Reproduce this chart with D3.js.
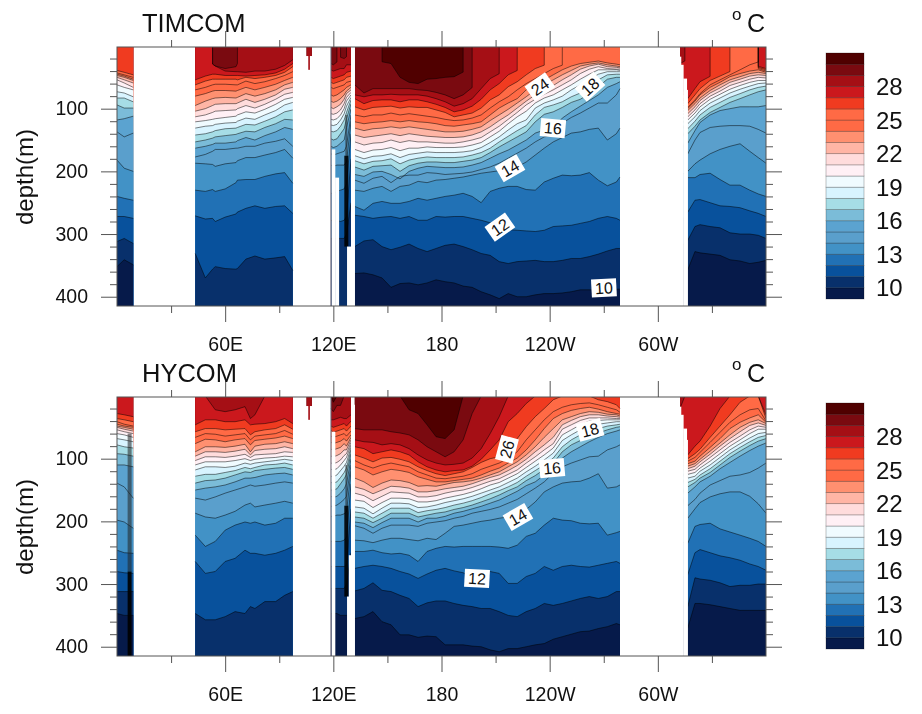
<!DOCTYPE html>
<html><head><meta charset="utf-8">
<script src="https://cdn.jsdelivr.net/npm/d3@7"></script>
<style>html,body{margin:0;background:#fff}svg{display:block;filter:blur(.45px)}text{font-family:"Liberation Sans",Arial,sans-serif;fill:#111}</style>
</head><body><svg id="c" width="922" height="714"></svg>
<script>
// Contour levels and band colours (coldest to warmest)
const levels = d3.range(10, 31);
const bandColors = ["#061a4a","#08306b","#08519c","#2171b5","#4292c6","#5a9fcc","#5ba3d0","#7bbcd8","#a6dde6","#d8f4ff","#f0fbff","#fff0f5","#ffdcdc","#ffb5a5","#ff9070","#ff6a45","#ff6a45","#f03b20","#cb181d","#a50f15","#7a0a10","#500000"];
const colorbarTicks = [10,13,16,19,22,25,28];
const lonTicks = [60,120,180,240,300];
const lonTickLabels = ["60E","120E","180","120W","60W"];
const lonMinorTicks = [30,90,150,210,270,330];
const depthTicks = [100,200,300,400];
const depthMinorTicks = [20,40,60,80,120,140,160,180,220,240,260,280,320,340,360,380];

// Longitudes of the sampled columns per basin
const westLons = [0,4,9];
const indianLonsT = [43.4,49,53,54.5,60,66,66.8,71.5,76.5,82,88,93,97.5];
const indianLonsH = [43.4,49,54.5,60,65.5,71,74,76.5,82,88,93,97.5];
const sliverLons = [105.2,108];
const seaLons = [118.7,120,122,124,126,127.3,129.8];
const pacificLons = [131.9,137,142,147,152,157,162,167,172,177,182,187,192,197,202,207,212,217,222,227,232,237,242,247,252,257,262,267,272,277,279];
const atlanticLons = [312.3,315,316.6,320.6,323.4,329,334.5,340,345.6,351,355.7,360];

// Isotherm depth (m): one row per level, 10 C up to 30 C, one value per longitude column
const timcomWest = [[352,341,349],[312,307,315],[272,272,275],[240,243,246],[182,195,200],[137,145,139],[118,116,112],[94,99,99],[83,83,89],[73,75,81],[62,66,70],[54,59,66],[50,54,59],[47,50,55],[45,48,53],[43,46,50],[39,42,46],[0,0,0],[0,0,0],[0,0,0],[0,0,0]];
const hycomWest = [[347,350,350],[312,312,312],[280,282,283],[246,250,251],[198,201,211],[139,145,163],[110,110,113],[92,93,96],[78,81,83],[68,70,73],[60,62,66],[54,57,60],[50,53,56],[48,50,53],[45,48,50],[41,45,48],[36,38,41],[28,30,33],[0,0,0],[0,0,0],[0,0,0]];

const timcomIndian = [
[430,430,430,430,430,430,430,430,430,430,430,430,430],
[331,370,356,352,355,356,355,340,335,340,338,336,358],
[271,276,275,280,273,268,265,259,255,259,256,255,267],
[230,232,229,232,228,218,214,213,213,208,204,202,219],
[187,188,189,192,188,186,183,178,178,174,170,165,179],
[177,173,168,165,165,163,163,160,160,155,152,148,160],
[163,160,157,155,155,153,151,146,150,143,137,130,133],
[153,150,147,145,143,141,140,136,137,130,124,117,118],
[142,140,137,135,132,131,130,125,126,120,113,105,102],
[131,128,127,125,123,122,120,115,117,110,103,94,90],
[121,119,117,116,114,112,110,105,107,101,93,85,82],
[113,110,106,104,103,102,100,95,99,93,85,77,74],
[104,100,95,93,92,92,91,85,90,85,78,69,66],
[95,88,84,83,82,83,82,76,80,76,70,62,58],
[80,76,72,71,71,72,71,66,70,66,61,55,50],
[70,66,62,61,61,62,62,56,60,57,52,47,41],
[62,56,53,53,53,53,54,50,52,50,47,42,33],
[54,48,45,45,47,47,47,48,47,46,43,37,28],
[0,0,0,32,40,41,41,42,40,40,37,31,22],
[0,0,0,32,36,33,0,0,0,0,0,0,0],
[0,0,0,0,0,0,0,0,0,0,0,0,0]];
const hycomIndian = [
[430,430,430,430,430,430,430,430,430,430,430,430],
[347,357,357,352,344,347,336,339,328,328,318,312],
[264,283,280,264,259,246,251,251,254,251,246,240],
[222,240,232,214,206,201,203,201,206,203,195,195],
[187,193,195,190,184,174,171,177,174,171,168,171],
[163,166,161,155,150,145,142,144,142,139,137,139],
[150,147,145,142,137,131,131,130,126,124,123,126],
[139,135,134,131,126,121,122,119,117,115,114,117],
[128,125,125,122,119,114,116,114,110,109,107,110],
[118,113,113,114,112,107,109,107,105,103,101,103],
[110,105,105,105,103,100,103,101,99,98,96,97],
[103,97,97,98,96,93,98,94,93,92,89,90],
[96,89,89,90,88,85,94,87,85,84,81,84],
[89,81,81,82,80,77,89,80,77,76,73,76],
[76,69,70,73,70,68,78,71,69,67,64,68],
[66,60,61,64,62,60,70,64,62,60,55,61],
[57,52,52,54,53,52,62,57,54,52,46,53],
[46,38,38,41,41,38,46,45,44,41,36,44],
[0,0,22,25,22,17,36,30,0,0,0,0],
[0,0,0,0,0,0,0,0,0,0,0,0],
[0,0,0,0,0,0,0,0,0,0,0,0]];

const sliverRows = [[60,60],[60,60],[60,60],[60,60],[60,60],[60,60],[60,60],[60,60],[60,60],[60,60],[60,60],[60,60],[60,60],[60,60],[60,60],[60,60],[60,60],[60,60],[60,60],[0,0],[0,0]];

const timcomSea = [
[430,430,430,430,430,430,430],
[307,307,307,307,307,300,250],
[278,280,278,280,278,272,180],
[235,235,232,230,228,220,140],
[190,192,190,190,190,185,120],
[172,174,172,170,168,160,110],
[160,162,160,155,150,130,100],
[148,150,148,140,132,116,92],
[136,137,135,128,118,106,86],
[126,127,125,118,108,96,82],
[117,118,116,110,100,88,78],
[108,109,107,102,92,82,74],
[98,100,97,93,85,76,70],
[88,90,88,84,78,72,66],
[78,80,78,74,70,66,62],
[66,68,66,64,62,58,56],
[58,60,58,56,54,50,48],
[50,52,50,48,46,42,40],
[38,40,38,36,36,30,30],
[28,30,0,0,20,0,0],
[0,0,0,0,0,0,0]];
const hycomSea = [
[347,347,347,350,350,350,350],
[307,307,307,307,307,300,250],
[272,272,272,272,272,270,180],
[232,232,232,232,230,225,140],
[192,192,190,190,188,185,120],
[176,176,174,170,165,160,110],
[160,162,160,155,148,140,100],
[150,150,148,140,132,125,92],
[138,139,137,130,122,115,86],
[128,129,126,119,112,106,82],
[117,118,116,110,103,98,78],
[107,108,106,102,95,92,74],
[96,97,95,92,86,86,70],
[85,86,84,82,76,80,66],
[74,76,74,72,68,72,62],
[64,66,64,62,60,64,56],
[55,58,56,54,52,56,48],
[48,50,48,46,44,48,40],
[38,38,36,34,36,36,30],
[20,25,15,15,0,0,0],
[0,10,0,0,0,0,0]];

const timcomPacific = [
[363,362,365,370,385,379,378,381,378,373,376,378,383,385,392,397,403,395,400,400,397,395,395,394,392,389,389,389,388,388,388],
[320,311,309,320,325,321,316,323,328,323,318,316,320,325,331,334,344,347,344,343,342,344,344,342,339,339,336,332,327,323,323],
[270,272,275,273,272,275,272,278,278,272,273,272,272,275,278,282,288,293,294,295,296,294,288,287,286,283,280,275,272,275,278],
[256,262,251,248,251,251,248,243,246,243,240,238,235,240,250,232,227,224,224,229,230,217,211,206,207,206,202,214,223,217,209],
[230,232,227,224,232,224,222,216,218,214,213,211,209,206,203,201,199,195,193,185,174,163,153,146,139,137,133,131,150,140,131],
[214,219,211,208,218,208,206,206,202,203,205,204,203,201,197,193,187,179,171,163,153,145,142,123,114,107,99,91,91,78,68],
[205,208,201,200,205,212,200,195,192,193,194,194,193,190,186,179,172,166,158,150,139,134,131,115,105,96,87,78,66,60,57],
[193,198,192,191,190,200,191,187,185,185,186,186,184,182,178,170,161,153,145,137,121,109,105,98,90,85,76,65,53,50,50],
[183,188,184,183,180,188,182,179,177,178,178,178,177,174,170,163,153,144,135,127,110,98,94,89,81,75,66,54,46,45,45],
[175,180,176,175,172,178,173,171,169,170,170,170,169,167,162,154,145,134,124,118,99,91,86,80,70,62,54,45,41,41,41],
[165,170,166,165,162,167,163,163,161,162,162,162,161,158,154,145,136,124,113,104,91,83,78,70,62,53,45,38,38,38,39],
[153,158,155,154,150,154,151,153,153,154,155,155,153,150,146,137,128,117,106,94,85,77,70,62,54,44,37,33,36,37,37],
[142,146,144,142,140,143,140,142,144,145,146,146,145,142,137,129,119,110,99,88,78,69,63,54,46,37,32,29,33,34,35],
[131,135,132,131,129,131,129,131,133,135,137,137,136,133,129,119,110,101,91,81,70,62,54,46,39,32,29,27,30,32,33],
[121,124,122,121,119,121,119,121,122,124,127,128,126,124,121,110,99,91,84,70,60,54,46,38,32,28,26,24,27,29,30],
[110,113,110,110,107,110,108,110,112,114,117,119,118,115,110,99,89,81,70,60,52,44,36,0,0,0,0,0,0,0,0],
[97,102,98,97,96,99,97,98,98,102,106,113,110,107,99,86,78,65,57,46,36,0,0,0,0,0,0,0,0,0,0],
[84,92,87,86,86,89,86,86,89,93,98,105,102,96,85,70,60,46,0,0,0,0,0,0,0,0,0,0,0,0,0],
[78,81,78,78,77,78,78,78,80,84,89,96,92,84,68,52,0,0,0,0,0,0,0,0,0,0,0,0,0,0,0],
[62,75,68,68,68,68,68,70,71,74,78,84,78,0,0,0,0,0,0,0,0,0,0,0,0,0,0,0,0,0,0],
[0,0,0,0,28,50,58,60,53,52,50,49,0,0,0,0,0,0,0,0,0,0,0,0,0,0,0,0,0,0,0]];
const hycomPacific = [
[355,352,344,360,365,381,381,385,383,384,397,397,397,399,400,405,408,403,403,400,397,395,388,384,380,376,375,371,368,363,365],
[311,307,298,310,312,318,323,336,330,327,327,331,334,336,339,339,344,350,352,344,339,331,334,331,327,323,320,323,320,312,312],
[275,272,270,272,275,280,284,291,284,278,275,279,282,288,288,280,283,299,299,288,283,272,278,272,270,272,273,270,267,264,267],
[248,248,246,250,252,251,254,264,248,243,240,241,240,240,240,240,241,243,238,224,219,206,195,198,199,203,204,203,222,218,216],
[230,231,234,230,227,227,229,231,227,229,219,208,206,203,200,198,195,193,190,181,169,153,145,139,137,136,131,124,147,145,142],
[207,211,219,211,206,206,206,208,203,201,199,195,192,187,184,181,177,171,165,156,147,137,123,113,107,102,97,96,86,81,78],
[201,203,210,202,195,195,195,201,195,195,192,187,184,180,176,171,166,159,152,143,137,126,118,99,89,81,73,66,60,56,54],
[193,195,202,195,187,187,187,193,190,187,185,181,178,174,169,164,158,151,145,135,127,117,107,89,78,71,64,59,54,50,49],
[185,187,195,187,179,179,179,186,183,181,178,174,171,167,162,156,151,145,138,128,119,110,99,81,70,62,54,52,48,46,45],
[177,179,188,179,171,171,172,178,177,174,170,167,164,160,155,150,145,138,131,121,112,102,91,71,62,54,46,45,43,41,41],
[166,168,178,170,163,163,164,169,169,167,163,160,157,153,148,142,138,131,124,114,104,94,83,62,54,46,40,39,38,38,38],
[155,159,167,160,153,154,155,161,161,159,155,152,150,146,141,136,132,125,118,107,97,86,76,53,46,39,35,35,35,36,36],
[145,149,156,150,144,145,147,153,153,151,148,146,144,140,135,130,126,119,111,101,89,78,66,46,39,33,30,30,32,33,34],
[131,137,146,139,134,135,138,144,143,144,141,138,137,135,131,126,121,113,105,94,81,66,52,38,33,28,25,26,29,30,32],
[113,118,126,121,117,119,122,129,133,137,137,135,133,131,126,120,115,107,99,86,70,52,36,28,23,20,18,21,25,28,29],
[103,110,115,110,107,110,113,121,126,131,132,130,128,124,117,112,107,99,89,70,54,38,25,18,14,12,11,14,18,22,26],
[94,99,105,99,98,101,105,113,119,124,127,124,121,114,106,100,97,86,68,49,33,20,6,0,0,0,0,6,9,14,20],
[81,84,92,89,86,89,94,105,113,118,121,119,118,112,101,86,70,41,28,12,0,0,0,0,0,0,0,0,0,0,0],
[70,73,74,78,76,78,84,94,102,107,110,109,107,99,84,60,33,0,0,0,0,0,0,0,0,0,0,0,0,0,0],
[52,54,54,54,57,59,62,70,81,89,97,89,70,28,0,0,0,0,0,0,0,0,0,0,0,0,0,0,0,0,0],
[0,0,0,0,0,0,22,28,46,65,68,54,0,0,0,0,0,0,0,0,0,0,0,0,0,0,0,0,0,0,0]];

const timcomAtlantic = [
[360,358,357,328,330,332,334,341,343,347,345,342],
[320,315,310,288,285,288,290,298,300,300,302,307],
[290,270,265,246,245,250,255,256,258,263,267,272],
[200,205,210,210,205,203,213,222,222,230,236,240],
[135,170,200,188,182,172,165,160,156,168,178,187],
[125,148,172,150,138,130,128,127,127,128,133,139],
[115,135,155,135,122,110,103,100,97,97,97,95],
[110,125,140,128,118,106,98,90,84,78,73,70],
[105,118,132,120,110,98,90,82,76,70,66,64],
[100,112,124,113,103,91,83,75,69,64,60,59],
[96,107,118,107,97,85,77,69,63,58,55,55],
[92,102,113,102,92,80,72,63,58,53,50,51],
[88,98,108,97,87,75,67,58,53,48,46,47],
[84,94,103,92,83,71,62,54,49,44,42,44],
[80,90,100,88,78,66,58,49,44,40,38,42],
[78,87,98,86,76,62,54,46,38,30,0,40],
[70,80,92,78,68,55,48,0,0,0,0,38],
[60,76,84,68,57,0,0,0,0,0,0,36],
[28,0,0,0,0,0,0,0,0,0,0,0],
[0,0,0,0,0,0,0,0,0,0,0,0],
[0,0,0,0,0,0,0,0,0,0,0,0]];
const hycomAtlantic = [
[370,370,370,331,331,333,336,339,342,342,342,342],
[335,335,336,290,292,294,298,304,302,302,300,300],
[290,288,285,250,245,250,255,258,262,268,272,278],
[230,235,235,208,205,203,212,217,222,227,232,240],
[140,178,195,180,170,161,156,153,153,160,172,187],
[130,160,175,165,155,142,135,128,126,122,115,107],
[120,142,155,145,137,128,116,106,96,87,80,75],
[110,132,145,138,131,122,110,98,88,79,72,68],
[100,125,138,133,126,116,104,92,82,73,66,63],
[95,118,131,128,120,110,98,86,76,67,60,58],
[90,112,125,122,115,104,92,80,70,60,53,53],
[85,107,120,117,110,98,86,74,64,54,48,50],
[80,102,116,112,105,93,80,68,57,47,43,47],
[76,98,112,108,101,88,75,62,50,42,38,44],
[70,92,108,104,96,82,68,52,42,35,30,42],
[60,86,104,98,90,74,58,42,30,22,20,40],
[50,82,100,92,85,66,48,30,10,0,0,36],
[40,75,94,80,72,48,20,0,0,0,0,30],
[20,0,0,0,0,0,0,0,0,0,0,0],
[0,0,0,0,0,0,0,0,0,0,0,0],
[0,0,0,0,0,0,0,0,0,0,0,0]];

// Land below a given depth: west lon, east lon, depth where land begins
const sharedMaskWest = [104.4,107,105.9,311.4,312.8,314.1,316];
const sharedMaskEast = [106.1,108.8,107.2,313,314.3,316.2,316.7];
const sharedMaskDepth = [16,16,38,17,30,52,70];
const timcomMaskWest = [119,121,127.6,129.8];
const timcomMaskEast = [121.1,123.2,129.9,132];
const timcomMaskDepth = [165,210,320,0];
const hycomMaskWest = [119,127.6,128.6,129.8];
const hycomMaskEast = [121.1,129.9,129.9,132];
const hycomMaskDepth = [57,320,254,14];

// Very steep fronts, where isotherms pile up: lon, top, middle, bottom depth, upper stroke
const timcomFrontLons = [127.2], timcomFrontTop = [110], timcomFrontMid = [175], timcomFrontBottom = [320], timcomFrontWidth = [2];
const hycomFrontLons = [127.2,7], hycomFrontTop = [110,60], hycomFrontMid = [175,280], hycomFrontBottom = [320,420], hycomFrontWidth = [2,4];

// In-line contour labels
const timcomLabelText = ["24","18","16","14","12","10"];
const timcomLabelLon = [234.6,262.4,241.8,218,212.4,270.1];
const timcomLabelDepth = [65,65,131,195,289,386];
const timcomLabelAngle = [-35,-42,5,-30,-35,-3];
const hycomLabelText = ["26","18","16","14","12"];
const hycomLabelLon = [216.3,262.4,241.3,222.4,199.7];
const hycomLabelDepth = [85,54,115,193,291];
const hycomLabelAngle = [-75,-15,-5,-30,3];

const svg = d3.select("#c");
const x = d3.scaleLinear().domain([0,360]).range([117,766]);
const color = d3.scaleThreshold().domain(levels).range(bandColors);

// Points of one isotherm; where "step" is set, an outcropping isotherm rises straight to the surface
function isoPoints(lons,row,step){
  const p = [];
  row.forEach((d,i)=>{
    if(step && i>0){
      if(d===0 && row[i-1]>0){ p.push([lons[i],row[i-1]*.85]); p.push([lons[i]+.01,0]); return; }
      if(d>0 && row[i-1]===0){ p.push([lons[i-1],0]); p.push([lons[i-1]+.01,d*.9]); }
    }
    p.push([lons[i],d]);
  });
  return p;
}

function drawPanel(o){
  const y = d3.scaleLinear().domain([1.6,414.8]).range([o.top,o.top+259]);
  const g = svg.append("g");
  const clipId = "clip"+o.top;
  svg.append("clipPath").attr("id",clipId).append("rect").attr("x",117).attr("y",o.top).attr("width",649).attr("height",259);
  const plot = g.append("g").attr("clip-path",`url(#${clipId})`);
  o.regions.forEach(([lons,rows])=>{
    plot.append("rect").attr("x",x(lons[0])).attr("y",o.top)
      .attr("width",x(lons[lons.length-1])-x(lons[0])).attr("height",259).attr("fill",color(31));
    for(let k=levels.length-1;k>=0;k--){
      plot.append("path").datum(isoPoints(lons,rows[k],o.step)).attr("fill",color(levels[k]-.5))
        .attr("d",d3.area().x(p=>x(p[0])).y0(o.top+259).y1(p=>y(p[1])));
    }
    for(let k=levels.length-1;k>=0;k--){
      plot.append("path").datum(isoPoints(lons,rows[k],o.step)).attr("fill","none").attr("stroke","#000").attr("stroke-opacity",.62).attr("stroke-width",.8)
        .attr("d",d3.line().x(p=>x(p[0])).y(p=>y(p[1])));
    }
  });
  o.frontLons.forEach((lon,i)=>{
    plot.append("line").attr("x1",x(lon)).attr("x2",x(lon)).attr("y1",y(o.frontTop[i])).attr("y2",y(o.frontMid[i]))
      .attr("stroke","#222").attr("stroke-opacity",.55).attr("stroke-width",o.frontWidth[i]);
    plot.append("line").attr("x1",x(lon)).attr("x2",x(lon)).attr("y1",y(o.frontMid[i])).attr("y2",y(o.frontBottom[i]))
      .attr("stroke","#000").attr("stroke-opacity",.9).attr("stroke-width",4);
  });
  sharedMaskWest.concat(o.maskWest).forEach((w,i)=>{
    const e = sharedMaskEast.concat(o.maskEast)[i], d = sharedMaskDepth.concat(o.maskDepth)[i];
    plot.append("rect").attr("x",x(w)).attr("width",x(e)-x(w)).attr("y",y(d)).attr("height",o.top+259-y(d)).attr("fill","#fff");
  });
  plot.append("line").attr("x1",x(118.7)).attr("x2",x(118.7)).attr("y1",o.top).attr("y2",o.top+259).attr("stroke","#667").attr("stroke-width",1);
  // contour labels
  o.labelText.forEach((t,i)=>{
    const l = plot.append("g").attr("transform",`translate(${x(o.labelLon[i])},${y(o.labelDepth[i])}) rotate(${o.labelAngle[i]})`);
    l.append("rect").attr("x",-12.5).attr("y",-9).attr("width",25).attr("height",18).attr("fill","#fff");
    l.append("text").attr("text-anchor","middle").attr("dy","0.36em").attr("font-size",16).text(t);
  });
  // frame
  g.append("rect").attr("x",117).attr("y",o.top).attr("width",649).attr("height",259).attr("fill","none").attr("stroke","#555").attr("stroke-width",1);
  // axes
  const style = a=>{a.select(".domain").remove();a.selectAll("line").attr("stroke","#555");a.selectAll("text").attr("font-size",19.5);a.attr("font-family",null);};
  const ax = (gen,tx,ty,vals,size,fmt,pad)=>{
    const a = g.append("g").attr("transform",`translate(${tx},${ty})`).call(gen.tickValues(vals).tickSize(size).tickPadding(pad||0).tickFormat(fmt||(()=>"")));
    style(a); return a;
  };
  const bot = o.top+259;
  ax(d3.axisBottom(x),0,bot,lonTicks,16,(d,i)=>lonTickLabels[i],15);
  ax(d3.axisBottom(x),0,bot,lonMinorTicks,7);
  ax(d3.axisTop(x),0,o.top,lonTicks,16);
  ax(d3.axisTop(x),0,o.top,lonMinorTicks,7);
  ax(d3.axisLeft(y),117,0,depthTicks,16,d=>d,13);
  ax(d3.axisLeft(y),117,0,depthMinorTicks,7);
  ax(d3.axisRight(y),766,0,depthTicks,16);
  ax(d3.axisRight(y),766,0,depthMinorTicks,7);
  // titles
  g.append("text").attr("x",142).attr("y",o.top-15).attr("font-size",25.5).text(o.title);
  g.append("text").attr("x",732).attr("y",o.top-27).attr("font-size",17).text("o");
  g.append("text").attr("x",747).attr("y",o.top-15).attr("font-size",25).text("C");
  g.append("text").attr("transform",`translate(33,${o.top+130}) rotate(-90)`).attr("text-anchor","middle").attr("font-size",24).text("depth(m)");
  // colour bar
  const cb = d3.scaleLinear().domain([9,31]).range([o.top+252,o.top+6]);
  bandColors.forEach((c,i)=>{
    g.append("rect").attr("x",826).attr("width",38).attr("y",cb(10+i)).attr("height",cb(9+i)-cb(10+i))
      .attr("fill",c).attr("stroke","#000").attr("stroke-opacity",.3).attr("stroke-width",.8);
  });
  colorbarTicks.forEach(t=>{
    g.append("text").attr("x",876).attr("y",cb(t)).attr("dy","0.36em").attr("font-size",24).text(t);
  });
}

drawPanel({title:"TIMCOM",top:47,step:true,
  regions:[[westLons,timcomWest],[indianLonsT,timcomIndian],[sliverLons,sliverRows],[seaLons,timcomSea],[pacificLons,timcomPacific],[atlanticLons,timcomAtlantic]],
  maskWest:timcomMaskWest,maskEast:timcomMaskEast,maskDepth:timcomMaskDepth,
  frontLons:timcomFrontLons,frontTop:timcomFrontTop,frontMid:timcomFrontMid,frontBottom:timcomFrontBottom,frontWidth:timcomFrontWidth,
  labelText:timcomLabelText,labelLon:timcomLabelLon,labelDepth:timcomLabelDepth,labelAngle:timcomLabelAngle});
drawPanel({title:"HYCOM",top:397,step:false,
  regions:[[westLons,hycomWest],[indianLonsH,hycomIndian],[sliverLons,sliverRows],[seaLons,hycomSea],[pacificLons,hycomPacific],[atlanticLons,hycomAtlantic]],
  maskWest:hycomMaskWest,maskEast:hycomMaskEast,maskDepth:hycomMaskDepth,
  frontLons:hycomFrontLons,frontTop:hycomFrontTop,frontMid:hycomFrontMid,frontBottom:hycomFrontBottom,frontWidth:hycomFrontWidth,
  labelText:hycomLabelText,labelLon:hycomLabelLon,labelDepth:hycomLabelDepth,labelAngle:hycomLabelAngle});
</script></body></html>
